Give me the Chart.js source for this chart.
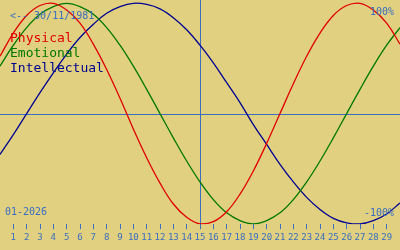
<!DOCTYPE html>
<html>
<head>
<meta charset="utf-8">
<script src="https://cdn.jsdelivr.net/npm/chart.js@4/dist/chart.umd.min.js"></script>
<style>
  body { margin: 0; background: #e0d080; }
  #wrap { position: relative; width: 400px; height: 250px; overflow: hidden; }
  .lbl { position: absolute; font-family: "DejaVu Sans Mono", monospace; white-space: pre; line-height: 1; }
</style>
</head>
<body>
<div id="wrap">
  <canvas id="bio" width="400" height="250"></canvas>
  <div class="lbl" style="left:10px; top:11px; font-size:10px; color:#3a6ec0;">&lt;-- 30/11/1981</div>
  <div class="lbl" style="left:10px; top:31px; font-size:13px; color:#e00000;">Physical</div>
  <div class="lbl" style="left:10px; top:46px; font-size:13px; color:#007800;">Emotional</div>
  <div class="lbl" style="left:10px; top:61px; font-size:13px; color:#000090;">Intellectual</div>
  <div class="lbl" style="right:6px; top:7px; font-size:10px; color:#3a6ec0;">100%</div>
  <div class="lbl" style="right:6px; top:208px; font-size:10px; color:#3a6ec0;">-100%</div>
  <div class="lbl" style="left:5px; top:207px; font-size:10px; color:#3a6ec0;">01-2026</div>
</div>
<script>
'use strict';

// дни месяца (0..30) и значения биоритмов в процентах
const days = [0, 1, 2, 3, 4, 5, 6, 7, 8, 9, 10, 11, 12, 13, 14, 15, 16, 17, 18, 19, 20, 21, 22, 23, 24, 25, 26, 27, 28, 29, 30];
const physical = [52, 73, 89, 98, 100, 94, 82, 63, 40, 14, -14, -40, -63, -82, -94, -100, -98, -89, -73, -52, -27, 0, 27, 52, 73, 89, 98, 100, 94, 82, 63];
const emotional = [43, 62, 78, 90, 97, 100, 97, 90, 78, 62, 43, 22, 0, -22, -43, -62, -78, -90, -97, -100, -97, -90, -78, -62, -43, -22, 0, 22, 43, 62, 78];
const intellectual = [-37, -19, 0, 19, 37, 54, 69, 81, 91, 97, 100, 99, 95, 87, 76, 62, 46, 28, 10, -10, -28, -46, -62, -76, -87, -95, -99, -100, -97, -91, -81];
const today = 15;

const blue = '#3a6ec0';

function series(values) {
    let pts = [];
    for (let i = 0; i < days.length; i++)
        pts.push({x: days[i], y: values[i]});
    return pts;
}

function line(label, values, color) {
    return {
        label: label,
        data: series(values),
        borderColor: color,
        borderWidth: 1.3,
        pointRadius: 0,
        tension: 0.4,
        fill: false
    };
}

// центральная линия и отметка сегодняшнего дня
const crossLines = {
    id: 'crossLines',
    beforeDatasetsDraw(chart) {
        let ctx = chart.ctx,
            a = chart.chartArea,
            x = chart.scales.x.getPixelForValue(today),
            y = chart.scales.y.getPixelForValue(0);
        ctx.save();
        ctx.strokeStyle = blue;
        ctx.lineWidth = 1;
        ctx.beginPath();
        ctx.moveTo(a.left, Math.round(y) + 0.5);
        ctx.lineTo(a.right, Math.round(y) + 0.5);
        ctx.moveTo(Math.round(x) + 0.5, a.top);
        ctx.lineTo(Math.round(x) + 0.5, a.bottom);
        ctx.stroke();
        ctx.restore();
    }
};

new Chart(document.getElementById('bio'), {
    type: 'line',
    data: {
        datasets: [
            line('Physical', physical, '#e00000'),
            line('Emotional', emotional, '#007800'),
            line('Intellectual', intellectual, '#000090')
        ]
    },
    options: {
        responsive: false,
        animation: false,
        layout: { padding: { left: 0, right: 0, top: 0, bottom: 4 } },
        plugins: { legend: { display: false }, tooltip: { enabled: false } },
        scales: {
            x: {
                type: 'linear',
                min: 0,
                max: 30,
                afterBuildTicks: axis => {
                    axis.ticks = axis.ticks.filter(t => t.value >= 1 && t.value <= 29);
                },
                ticks: {
                    stepSize: 1,
                    autoSkip: false,
                    maxRotation: 0,
                    padding: 3,
                    color: blue,
                    font: { family: 'DejaVu Sans Mono', size: 9 }
                },
                grid: {
                    display: true,
                    drawOnChartArea: false,
                    tickLength: 5,
                    color: blue
                },
                border: { display: false }
            },
            y: {
                display: false,
                min: -100.3,
                max: 103
            }
        }
    },
    plugins: [crossLines]
});
</script>
</body>
</html>
